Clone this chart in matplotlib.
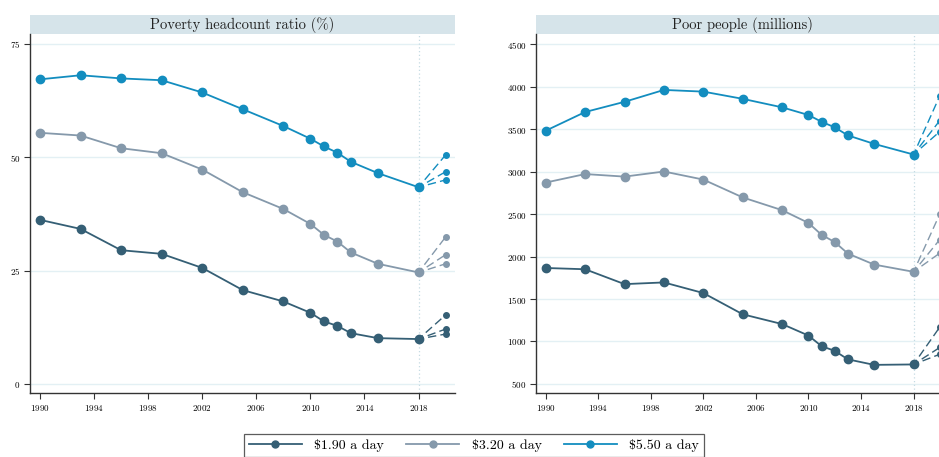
import matplotlib.pyplot as plt
from matplotlib.lines import Line2D
from matplotlib.patches import Rectangle

plt.rcParams['font.family'] = ['cmr10', 'DejaVu Serif']
plt.rcParams['axes.formatter.use_mathtext'] = True
plt.rcParams['mathtext.fontset'] = 'cm'

years = [1990, 1993, 1996, 1999, 2002, 2005, 2008, 2010, 2011, 2012, 2013, 2015, 2018]
proj_year = 2020
labels = ['\\$1.90 a day', '\\$3.20 a day', '\\$5.50 a day']
colors = ['#355f75', '#8599ab', '#138dbf']

# headcount ratio (%)
rate_190 = [36.2, 34.2, 29.5, 28.7, 25.6, 20.7, 18.2, 15.7, 13.8, 12.8, 11.2, 10.1, 9.9]
rate_320 = [55.4, 54.8, 52.0, 50.9, 47.3, 42.3, 38.6, 35.3, 32.9, 31.4, 29.0, 26.5, 24.6]
rate_550 = [67.2, 68.1, 67.4, 67.0, 64.3, 60.6, 56.9, 54.1, 52.4, 51.0, 49.0, 46.5, 43.4]
rate_proj_190 = [15.2, 12.1, 11.0]
rate_proj_320 = [32.4, 28.5, 26.5]
rate_proj_550 = [50.5, 46.8, 45.0]

# poor people (millions)
pop_190 = [1865, 1850, 1675, 1695, 1570, 1320, 1205, 1070, 945, 890, 790, 725, 730]
pop_320 = [2870, 2970, 2940, 3000, 2905, 2695, 2545, 2395, 2255, 2170, 2035, 1905, 1820]
pop_550 = [3480, 3700, 3820, 3960, 3940, 3855, 3755, 3665, 3585, 3520, 3425, 3325, 3200]
pop_proj_190 = [1170, 930, 850]
pop_proj_320 = [2500, 2200, 2040]
pop_proj_550 = [3890, 3600, 3470]

fig = plt.figure(figsize=(9.39, 4.57), dpi=100)
ax1 = fig.add_axes([30 / 939, 64 / 457, 425 / 939, 359 / 457])
ax2 = fig.add_axes([536 / 939, 64 / 457, 413 / 939, 359 / 457])


def draw_panel(ax, series, projections, title, ylim, yticks):
    ax.axvline(2018, color='#c5dbe3', lw=0.9, ls=(0, (1, 2)), zorder=1)
    for t in yticks:
        ax.axhline(t, color='#e3f0f4', lw=1.0, zorder=0)
    for vals, proj, c in zip(series, projections, colors):
        ax.plot(years, vals, color=c, lw=1.3, marker='o', ms=6, zorder=3)
        for p in proj:
            ax.plot([years[-1], proj_year], [vals[-1], p], color=c, lw=1.0,
                    ls=(2, (6, 3)), zorder=2)
            ax.plot([proj_year], [p], 'o', color=c, ms=4, zorder=3)
    ax.set_xlim(1989.26, 2020.7)
    ax.set_ylim(*ylim)
    ax.set_yticks(yticks)
    ax.set_xticks(range(1990, 2019, 4))
    for s in ['top', 'right']:
        ax.spines[s].set_visible(False)
    for s in ['left', 'bottom']:
        ax.spines[s].set_color('#333333')
        ax.spines[s].set_linewidth(1.0)
    ax.tick_params(labelsize=6.5, length=4, width=0.8, color='#333333', pad=3)
    ax.add_patch(Rectangle((0, 1.0), 1, 0.052, transform=ax.transAxes,
                           facecolor='#d6e4ea', edgecolor='none', clip_on=False))
    ax.text(0.5, 1.026, title, transform=ax.transAxes, ha='center', va='center',
            fontsize=10.5, color='#222222')


draw_panel(ax1, [rate_190, rate_320, rate_550],
           [rate_proj_190, rate_proj_320, rate_proj_550],
           'Poverty headcount ratio (%)', (-2.0, 77.2), [0, 25, 50, 75])
draw_panel(ax2, [pop_190, pop_320, pop_550],
           [pop_proj_190, pop_proj_320, pop_proj_550],
           'Poor people (millions)', (394, 4618),
           [500, 1000, 1500, 2000, 2500, 3000, 3500, 4000, 4500])

handles = [Line2D([], [], color=c, lw=1.3, marker='o', ms=5) for c in colors]
leg = fig.legend(handles, labels, loc='upper center', ncol=3,
                 bbox_to_anchor=(474 / 939, 0.066), fontsize=10,
                 handlelength=3.8, handletextpad=0.9, columnspacing=1.6,
                 fancybox=False, edgecolor='#333333', borderpad=0.35)
leg.get_frame().set_linewidth(0.9)

fig.savefig('out.png', dpi=100)
